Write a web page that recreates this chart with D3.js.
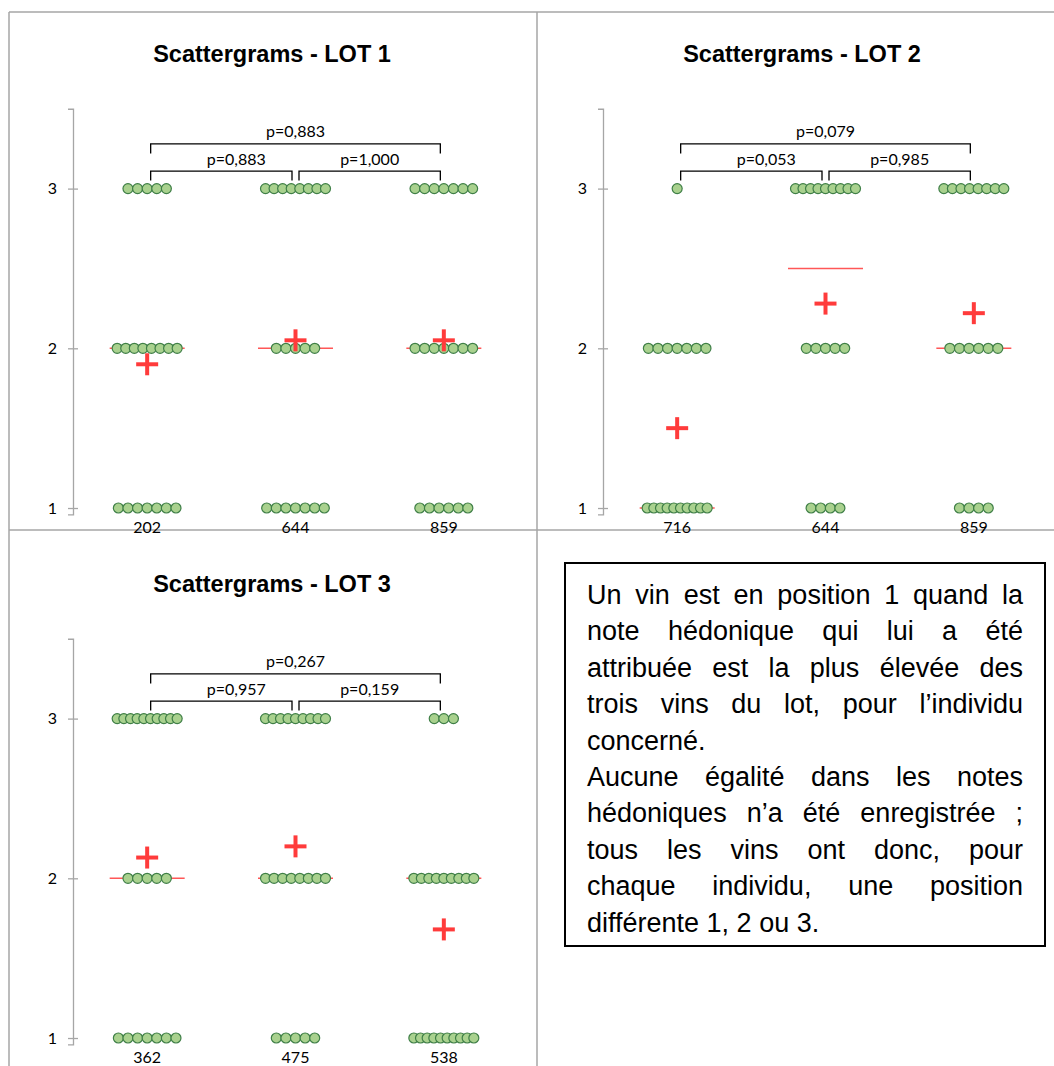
<!DOCTYPE html>
<html><head><meta charset="utf-8">
<script src="https://cdn.jsdelivr.net/npm/d3@7"></script>
<style>body{margin:0;background:#fff} svg{display:block}</style>
</head><body>
<svg id="c" width="1054" height="1066"></svg>
<script>
// ---------- data ----------
const lotTitles = ["Scattergrams - LOT 1", "Scattergrams - LOT 2", "Scattergrams - LOT 3"];
const wines1 = ["202", "644", "859"];
const wines2 = ["716", "644", "859"];
const wines3 = ["362", "475", "538"];
const ranks = [1, 2, 3];
// number of tasters giving rank 1, 2, 3 to each wine
const counts1 = [[7, 8, 5], [7, 5, 8], [6, 7, 7]];
const counts2 = [[10, 7, 1], [4, 5, 9], [4, 6, 8]];
const counts3 = [[7, 5, 10], [5, 8, 9], [10, 9, 3]];
const means1 = [1.90, 2.05, 2.05];
const means2 = [1.50, 2.28, 2.22];
const means3 = [2.13, 2.20, 1.68];
const medians1 = [2, 2, 2];
const medians2 = [1, 2.5, 2];
const medians3 = [2, 2, 2];
// p-values: [wine1 vs wine2, wine2 vs wine3, wine1 vs wine3]
const pvals1 = ["p=0,883", "p=1,000", "p=0,883"];
const pvals2 = ["p=0,053", "p=0,985", "p=0,079"];
const pvals3 = ["p=0,957", "p=0,159", "p=0,267"];
const yTicks = [1, 2, 3];
const bracketLevels = [3.11, 3.28];
const noteLines = [
  "Un vin est en position 1 quand la",
  "note hédonique qui lui a été",
  "attribuée est la plus élevée des",
  "trois vins du lot, pour l’individu",
  "concerné.",
  "Aucune égalité dans les notes",
  "hédoniques n’a été enregistrée ;",
  "tous les vins ont donc, pour",
  "chaque individu, une position",
  "différente 1, 2 ou 3."
];
const noteLast = [false, false, false, false, true, false, false, false, false, true];

// ---------- drawing ----------
const svg = d3.select("#c");
const gray = "#a6a6a6";
const lblFont = "Lato, 'Open Sans', sans-serif";

// frame
const frame = svg.append("g").attr("stroke", gray).attr("stroke-width", 1.5).attr("fill", "none");
frame.append("line").attr("x1", 9).attr("x2", 1054).attr("y1", 12).attr("y2", 12);
frame.append("line").attr("x1", 9).attr("x2", 9).attr("y1", 12).attr("y2", 1066);
frame.append("line").attr("x1", 537).attr("x2", 537).attr("y1", 12).attr("y2", 1066);
frame.append("line").attr("x1", 9).attr("x2", 1054).attr("y1", 530).attr("y2", 530);

function panel(dx, dy, title, wines, counts, means, medians, pvals) {
  const g = svg.append("g").attr("transform", `translate(${dx},${dy})`);
  const x = d3.scalePoint().domain(wines).range([73, 518]).padding(0.5);
  const y = d3.scaleLinear().domain([0.96, 3.5]).range([514.4, 108.75]);

  g.append("text").attr("x", 272).attr("y", 61.5).attr("text-anchor", "middle")
    .attr("font-family", "'Liberation Sans', Arial, sans-serif").attr("font-weight", "bold")
    .attr("font-size", 23.5).attr("fill", "#000").text(title);

  // axis
  const ax = g.append("g").attr("transform", "translate(73,0)")
    .call(d3.axisLeft(y).tickValues(yTicks).tickSizeOuter(0).tickSize(5).tickPadding(11).tickFormat(d3.format("d")));
  ax.select(".domain").attr("stroke", gray).attr("stroke-width", 1.3);
  ax.selectAll(".tick line").attr("stroke", gray).attr("stroke-width", 1.3).attr("x1", 5);
  ax.selectAll(".tick text").attr("font-family", lblFont).attr("font-size", 16).attr("fill", "#000");

  // category labels
  g.selectAll(".cat").data(wines).enter().append("text")
    .attr("x", d => x(d)).attr("y", 533).attr("text-anchor", "middle")
    .attr("font-family", lblFont).attr("font-size", 16).attr("fill", "#000").text(d => d);

  // medians
  g.selectAll(".med").data(wines).enter().append("line")
    .attr("x1", d => x(d) - 37.5).attr("x2", d => x(d) + 37.5)
    .attr("y1", (d, i) => y(medians[i])).attr("y2", (d, i) => y(medians[i]))
    .attr("stroke", "#ff5757").attr("stroke-width", 1.6);

  // dots
  const pts = [];
  wines.forEach((w, i) => ranks.forEach((r, j) => {
    const n = counts[i][j];
    const s = n > 1 ? Math.min(9.6, 60 / (n - 1)) : 0;
    for (let k = 0; k < n; k++) pts.push({ w, r, off: (k - (n - 1) / 2) * s });
  }));
  g.selectAll(".dot").data(pts).enter().append("circle")
    .attr("cx", d => x(d.w) + d.off).attr("cy", d => y(d.r)).attr("r", 5)
    .attr("fill", "#a9d18e").attr("stroke", "#3f7f47").attr("stroke-width", 1.2);

  // means
  const mg = g.selectAll(".mean").data(wines).enter().append("g")
    .attr("transform", (d, i) => `translate(${x(d)},${y(means[i])})`)
    .attr("stroke", "#ff3b3b").attr("stroke-width", 4);
  mg.append("line").attr("x1", -11).attr("x2", 11).attr("y1", 0).attr("y2", 0);
  mg.append("line").attr("x1", 0).attr("x2", 0).attr("y1", -11).attr("y2", 11);

  // brackets
  const w = wines;
  const brs = [
    { a: x(w[0]) + 3.5, b: x(w[1]) - 3.5, lvl: bracketLevels[0], p: pvals[0], lx: 15 },
    { a: x(w[1]) + 3.5, b: x(w[2]) - 3.5, lvl: bracketLevels[0], p: pvals[1], lx: 0 },
    { a: x(w[0]) + 3.5, b: x(w[2]) - 3.5, lvl: bracketLevels[1], p: pvals[2], lx: 0 }
  ];
  brs.forEach(b => {
    const yy = y(b.lvl);
    g.append("path").attr("d", `M${b.a},${yy + 9.5}V${yy}H${b.b}V${yy + 9.5}`)
      .attr("fill", "none").attr("stroke", "#000").attr("stroke-width", 1.3);
    g.append("text").attr("x", (b.a + b.b) / 2 + b.lx).attr("y", yy - 6.5)
      .attr("text-anchor", "middle").attr("font-family", lblFont).attr("font-size", 16)
      .attr("fill", "#000").text(b.p);
  });
}

panel(0, 0, lotTitles[0], wines1, counts1, means1, medians1, pvals1);
panel(530, 0, lotTitles[1], wines2, counts2, means2, medians2, pvals2);
panel(0, 530, lotTitles[2], wines3, counts3, means3, medians3, pvals3);

// note box
const boxX = 565, boxY = 563, boxW = 480, boxH = 383;
svg.append("rect").attr("x", boxX).attr("y", boxY).attr("width", boxW).attr("height", boxH)
  .attr("fill", "#fff").attr("stroke", "#000").attr("stroke-width", 2);
const tx0 = 587, tW = 436, firstBase = 604, lh = 36.4;
const tg = svg.append("g").attr("font-family", "'Liberation Sans', Arial, sans-serif")
  .attr("font-size", 27).attr("fill", "#000");
noteLines.forEach((line, i) => {
  const t = tg.append("text").attr("y", firstBase + i * lh);
  if (noteLast[i]) { t.attr("x", tx0).text(line); return; }
  const words = line.split(" ");
  const spans = words.map(wd => t.append("tspan").text(wd));
  const widths = spans.map(s => s.node().getComputedTextLength());
  const gap = (tW - d3.sum(widths)) / (words.length - 1);
  let cx = tx0;
  spans.forEach((s, k) => { s.attr("x", cx); cx += widths[k] + gap; });
});
</script>
</body></html>
